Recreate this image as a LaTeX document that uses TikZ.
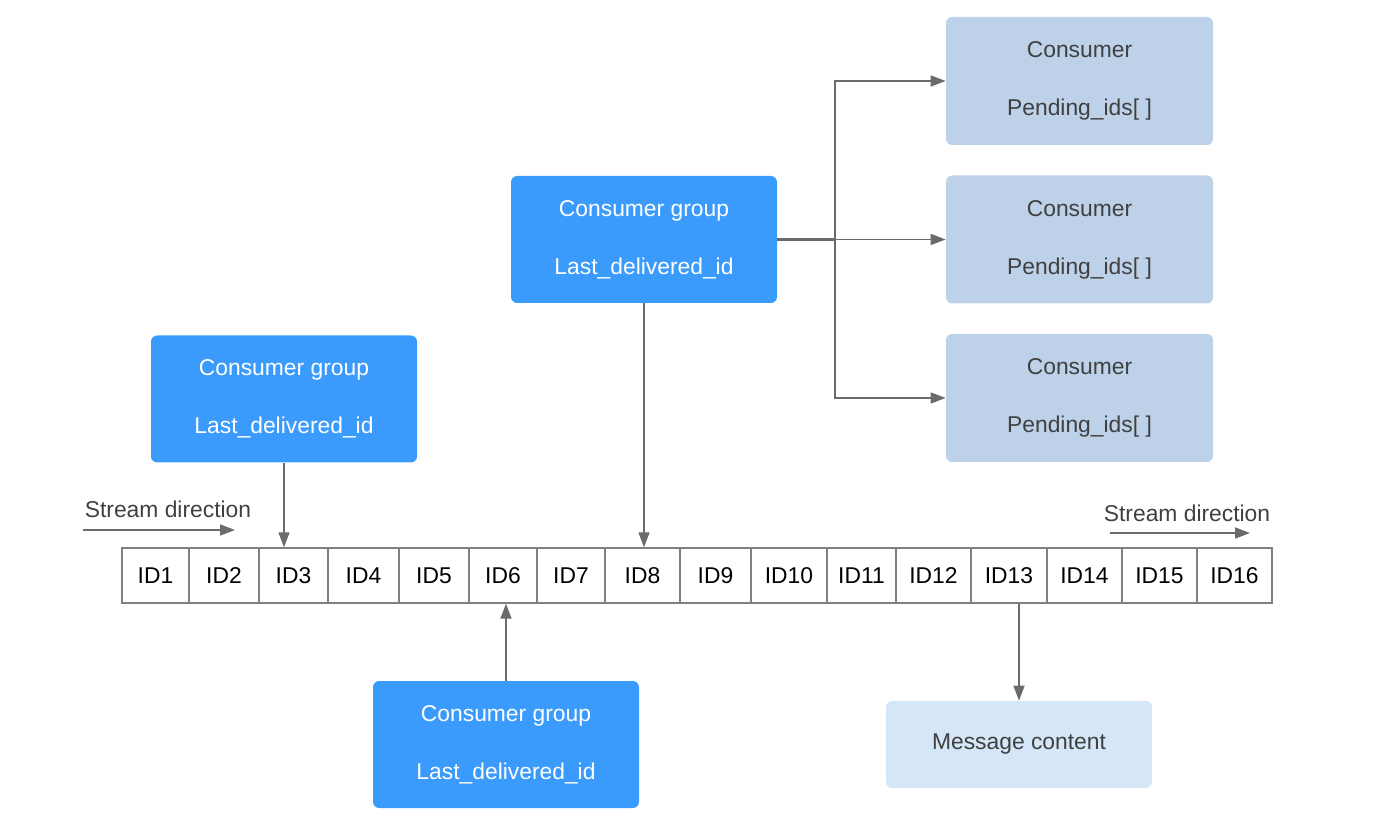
\documentclass[tikz,border=0pt]{standalone}
\usepackage{fontspec}
\setmainfont{Liberation Sans}
\usetikzlibrary{arrows.meta}

\begin{document}
\begin{tikzpicture}[
  groupbox/.style={draw=none,fill=cgroup,text=white,rounded corners=3.5pt,
    minimum width=5.32cm,minimum height=2.54cm,align=center,
    font=\fontsize{13}{33}\selectfont},
  consumerbox/.style={draw=none,fill=cconsumer,text=ctext,rounded corners=3.5pt,
    minimum width=5.34cm,minimum height=2.56cm,align=center,
    font=\fontsize{13}{33}\selectfont},
  msgbox/.style={draw=none,fill=cmsg,text=ctext,rounded corners=3.5pt,
    minimum width=5.32cm,minimum height=1.74cm,font=\fontsize{13}{16}\selectfont},
  cell/.style={draw=ccell,line width=0.8pt,fill=white,text=black,inner sep=0pt,
    minimum height=1.10cm,font=\fontsize{13}{16}\selectfont},
  flow/.style={draw=carrow,line width=0.9pt,-{Triangle[length=0.30cm,width=0.22cm]}},
  label/.style={text=ctext,font=\fontsize{13}{16}\selectfont},
]
\definecolor{cgroup}{rgb}{0.231,0.608,0.988}
\definecolor{cconsumer}{rgb}{0.741,0.820,0.914}
\definecolor{cmsg}{rgb}{0.831,0.902,0.969}
\definecolor{ctext}{rgb}{0.25,0.25,0.25}
\definecolor{ccell}{rgb}{0.50,0.50,0.50}
\definecolor{carrow}{rgb}{0.42,0.42,0.42}
\useasboundingbox (0,0) rectangle (27.92,16.68);
%
\node[groupbox] (grpTop) at (12.88cm,11.89cm) {Consumer group\\Last\_delivered\_id};
\node[groupbox] (grpLeft) at (5.68cm,8.70cm) {Consumer group\\Last\_delivered\_id};
\node[groupbox] (grpBottom) at (10.12cm,1.79cm) {Consumer group\\Last\_delivered\_id};
\node[consumerbox] (cons1) at (21.59cm,15.06cm) {Consumer\\Pending\_ids[ ]};
\node[consumerbox] (cons2) at (21.59cm,11.89cm) {Consumer\\Pending\_ids[ ]};
\node[consumerbox] (cons3) at (21.59cm,8.72cm) {Consumer\\Pending\_ids[ ]};
\node[msgbox] (msg) at (20.38cm,1.79cm) {Message content};
%
\foreach \i/\x/\w in {1/3.11/1.34,2/4.48/1.40,3/5.87/1.38,4/7.27/1.42,
  5/8.68/1.40,6/10.06/1.36,7/11.42/1.36,8/12.85/1.50,9/14.31/1.42,
  10/15.78/1.52,11/17.23/1.38,12/18.67/1.50,13/20.18/1.52,14/21.69/1.50,
  15/23.19/1.50,16/24.69/1.50}
  \node[cell,minimum width=\w cm] (id\i) at (\x cm,5.17cm) {ID\i};
%
\node[label] (streamL) at (3.36cm,6.50cm) {Stream direction};
\node[label] (streamR) at (23.74cm,6.42cm) {Stream direction};
\coordinate (streamLa) at (1.66cm,6.08cm);
\coordinate (streamLb) at (4.70cm,6.08cm);
\coordinate (streamRa) at (22.20cm,6.02cm);
\coordinate (streamRb) at (25.00cm,6.02cm);
\coordinate (branch) at (16.70cm,11.89cm);
%
\draw[flow] (streamLa) -- (streamLb);
\draw[flow] (streamRa) -- (streamRb);
\draw[flow] (grpTop.south) -- (grpTop.south |- id8.north);
\draw[flow] (grpLeft.south) -- (grpLeft.south |- id3.north);
\draw[flow] (grpBottom.north) -- (grpBottom.north |- id6.south);
\draw[flow] (msg.north |- id13.south) -- (msg.north);
\draw[draw=carrow,line width=1.6pt] (grpTop.east) -- (branch);
\draw[flow] (branch) -- (cons2.west);
\draw[flow] (branch) |- (cons1.west);
\draw[flow] (branch) |- (cons3.west);
%
\end{tikzpicture}
\end{document}
